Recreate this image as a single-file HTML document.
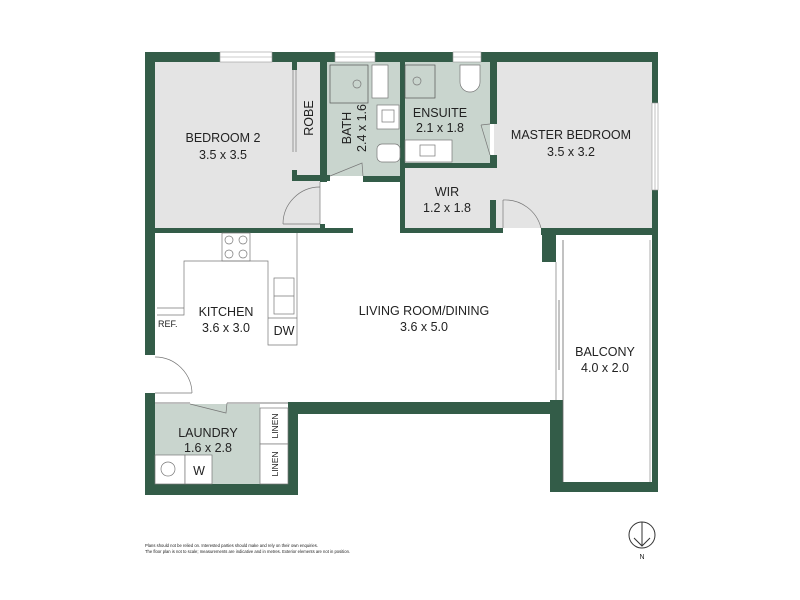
<!DOCTYPE html>
<html><head><meta charset="utf-8"><style>
html,body{margin:0;padding:0;background:#fff;}
svg{display:block;}
text{font-family:"Liberation Sans",Arial,sans-serif;fill:#222;}
</style></head><body>
<svg width="800" height="600" viewBox="0 0 800 600" xmlns="http://www.w3.org/2000/svg">
<!-- room fills -->
<rect x="155" y="62" width="165" height="166" fill="#e4e4e4"/>
<rect x="327" y="62" width="73" height="114" fill="#c9d5ce"/>
<rect x="404" y="62" width="86" height="101" fill="#c9d5ce"/>
<rect x="404" y="168" width="90" height="60" fill="#e4e4e4"/>
<rect x="494" y="62" width="158" height="166" fill="#e4e4e4"/>
<rect x="155" y="404" width="105" height="80" fill="#c9d5ce"/>

<g fill="#335c48">
<!-- top wall -->
<rect x="145" y="52" width="513" height="10"/>
<!-- left wall -->
<rect x="145" y="52" width="10" height="303"/>
<rect x="145" y="393" width="10" height="102"/>
<!-- right wall master -->
<rect x="652" y="52" width="6" height="188"/>
<!-- bedroom/corridor bottom wall -->
<rect x="145" y="228" width="208" height="5"/>
<rect x="400" y="228" width="103" height="5"/>
<rect x="541" y="228" width="117" height="7"/>
<rect x="542" y="228" width="14" height="34"/>
<!-- robe/bath -->
<rect x="320" y="62" width="7" height="120"/>
<rect x="292" y="175" width="38" height="6"/>
<rect x="292" y="170" width="5" height="11"/>
<rect x="292" y="62" width="5" height="8"/>
<rect x="363" y="176" width="41" height="6"/>
<rect x="320" y="224" width="5" height="9"/>
<!-- bath/ensuite wall -->
<rect x="400" y="62" width="5" height="171"/>
<rect x="400" y="163" width="97" height="5"/>
<rect x="490" y="62" width="7" height="62"/>
<rect x="490" y="155" width="7" height="13"/>
<rect x="490" y="200" width="6" height="33"/>
<!-- living bottom wall -->
<rect x="288" y="402" width="268" height="12"/>
<rect x="288" y="402" width="10" height="91"/>
<!-- laundry bottom -->
<rect x="145" y="484" width="153" height="11"/>
<!-- balcony -->
<rect x="550" y="400" width="13" height="92"/>
<rect x="550" y="482" width="108" height="10"/>
<rect x="652" y="235" width="6" height="257"/>
</g>
<!-- windows -->
<g fill="#fff" stroke="#999" stroke-width="0.6">
<rect x="220" y="52" width="52" height="10"/>
<rect x="335" y="52" width="40" height="10"/>
<rect x="453" y="52" width="28" height="10"/>
<rect x="652" y="103" width="6" height="87"/>
</g>
<line x1="220" y1="57" x2="272" y2="57" stroke="#999" stroke-width="0.6"/>
<line x1="335" y1="57" x2="375" y2="57" stroke="#999" stroke-width="0.6"/>
<line x1="453" y1="57" x2="481" y2="57" stroke="#999" stroke-width="0.6"/>
<line x1="655" y1="103" x2="655" y2="190" stroke="#999" stroke-width="0.6"/>
<!-- balcony inner line -->
<line x1="563" y1="240" x2="563" y2="482" stroke="#666" stroke-width="0.8"/>
<line x1="650" y1="240" x2="650" y2="482" stroke="#999" stroke-width="0.8"/>
<line x1="556" y1="262" x2="556" y2="400" stroke="#888" stroke-width="0.8"/>
<line x1="559" y1="300" x2="559" y2="370" stroke="#888" stroke-width="1"/>

<g fill="none" stroke="#777" stroke-width="0.7">
<!-- robe doors -->
<line x1="293" y1="70" x2="293" y2="152"/>
<line x1="296" y1="70" x2="296" y2="152"/>
<!-- bedroom 2 door -->
<line x1="320" y1="182" x2="320" y2="224"/>
<path d="M283 224 A37 37 0 0 1 320 187"/>
<line x1="283" y1="224" x2="320" y2="224"/>
<!-- bath door -->
<path d="M330 176 L362 163 L363 176"/>
<!-- ensuite door -->
<path d="M481 125 L490 155"/>
<path d="M481 125 L490 124"/>
<!-- WIR/master door -->
<path d="M503 200 A37 37 0 0 1 541 228"/>
<line x1="503" y1="200" x2="503" y2="228"/>
<!-- main door -->
<path d="M155 357 A37 37 0 0 1 192 393"/>
<line x1="155" y1="393" x2="192" y2="393"/>
<!-- laundry door -->
<path d="M190 404 L226 413 L227 403"/>
<line x1="155" y1="403" x2="190" y2="403" stroke="#555"/>
<line x1="227" y1="403" x2="288" y2="403" stroke="#555"/>
<!-- kitchen -->
<rect x="222" y="233" width="28" height="28" fill="#fff"/>
<circle cx="229" cy="240" r="4"/><circle cx="243" cy="240" r="4"/>
<circle cx="229" cy="254" r="4"/><circle cx="243" cy="254" r="4"/>
<path d="M297 233 L297 345 L268 345 L268 261 L184 261 L184 315 L157 315"/>
<rect x="274" y="278" width="20" height="36"/>
<line x1="274" y1="296" x2="294" y2="296"/>
<line x1="268" y1="318" x2="297" y2="318"/>
<line x1="157" y1="308" x2="184" y2="308"/>
<!-- bath fixtures -->
<rect x="330" y="65" width="38" height="38" stroke="#555"/>
<circle cx="357" cy="84" r="4"/>
<rect x="372" y="65" width="16" height="33" fill="#fff"/>
<rect x="377" y="105" width="22" height="24" fill="#fff"/>
<rect x="377" y="144" width="23" height="18" rx="5" fill="#fff"/>
<rect x="405" y="65" width="30" height="33" stroke="#555"/>
<circle cx="417" cy="81" r="4"/>
<path d="M460 65 L480 65 L480 82 A10 10 0 0 1 460 82 Z" fill="#fff"/>
<rect x="405" y="140" width="47" height="22" fill="#fff"/>
<rect x="420" y="145" width="15" height="11"/>
<rect x="382" y="110" width="12" height="12"/>
<!-- laundry -->
<rect x="155" y="455" width="30" height="29" fill="#fff"/>
<circle cx="168" cy="469" r="7"/>
<rect x="185" y="455" width="27" height="29" fill="#fff"/>
<rect x="260" y="408" width="28" height="36" fill="#fff"/>
<rect x="260" y="444" width="28" height="40" fill="#fff"/>
</g>

<!-- labels -->
<g font-size="12.5" text-anchor="middle">
<text x="223" y="142">BEDROOM 2</text>
<text x="223" y="159">3.5 x 3.5</text>
<text x="313" y="118" transform="rotate(-90 313 118)">ROBE</text>
<text x="351" y="128" transform="rotate(-90 351 128)">BATH</text>
<text x="366" y="128" transform="rotate(-90 366 128)">2.4 x 1.6</text>
<text x="440" y="117">ENSUITE</text>
<text x="440" y="132">2.1 x 1.8</text>
<text x="571" y="139">MASTER BEDROOM</text>
<text x="571" y="156">3.5 x 3.2</text>
<text x="447" y="196">WIR</text>
<text x="447" y="212">1.2 x 1.8</text>
<text x="226" y="316">KITCHEN</text>
<text x="226" y="332">3.6 x 3.0</text>
<text x="424" y="315">LIVING ROOM/DINING</text>
<text x="424" y="331">3.6 x 5.0</text>
<text x="605" y="356">BALCONY</text>
<text x="605" y="372">4.0 x 2.0</text>
<text x="208" y="437">LAUNDRY</text>
<text x="208" y="452">1.6 x 2.8</text>
<text x="284" y="335">DW</text>
<text x="199" y="475">W</text>
</g>
<text x="158" y="327" font-size="9">REF.</text>
<g font-size="8.5" text-anchor="middle">
<text x="278" y="426" transform="rotate(-90 278 426)">LINEN</text>
<text x="278" y="464" transform="rotate(-90 278 464)">LINEN</text>
</g>
<g font-size="4.2" fill="#444">
<text x="145" y="547">Plans should not be relied on. Interested parties should make and rely on their own enquiries.</text>
<text x="145" y="553">The floor plan is not to scale; measurements are indicative and in metres. Exterior elements are not in position.</text>
</g>
<circle cx="642" cy="535" r="13" fill="none" stroke="#333" stroke-width="1"/>
<path d="M642 522 L642 546 M634 538 L642 546 L650 538" fill="none" stroke="#333" stroke-width="1"/>
<text x="642" y="559" font-size="7" text-anchor="middle">N</text>
</svg>
</body></html>
